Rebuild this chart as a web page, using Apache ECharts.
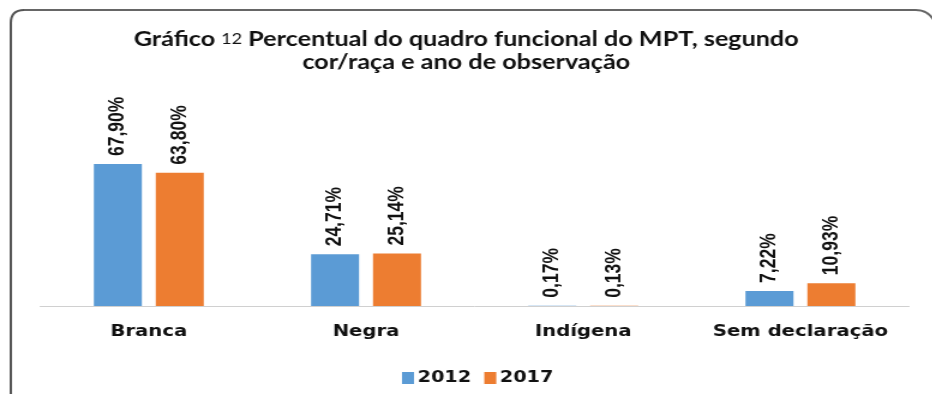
<!DOCTYPE html>
<html>
<head>
<meta charset="utf-8">
<script src="https://cdn.jsdelivr.net/npm/echarts@6/dist/echarts.min.js"></script>
<style>
  html, body { margin: 0; padding: 0; background: #fff; overflow: hidden; }
  #wrap { width: 932px; height: 394px; overflow: hidden; }
  /* the figure is laid out at 777px and widened to fill the 932px frame */
  #chart { width: 777px; height: 394px; transform: scaleX(1.2); transform-origin: 0 0; }
</style>
</head>
<body>
<div id="wrap"><div id="chart"></div></div>
<script>
// Categories (cor/raça) and yearly percentages
const categories = ['Branca', 'Negra', 'Indígena', 'Sem declaração'];
const years = ['2012', '2017'];
const values2012 = [67.90, 24.71, 0.17, 7.22];
const values2017 = [63.80, 25.14, 0.13, 10.93];

const colors = ['#5B9BD5', '#ED7D31'];
const titleFont = 'Lato, "Open Sans", "Noto Sans", sans-serif';
const boldFont = '"DejaVu Sans", Verdana, sans-serif';
const valueFont = '"Liberation Sans", Arial, sans-serif';

const fmt = v => v.toFixed(2).replace('.', ',') + '%';

function barSeries(name, data, color) {
  return {
    name: name,
    type: 'bar',
    data: data,
    barWidth: 40,
    barGap: '29%',
    itemStyle: { color: color },
    label: {
      show: true,
      position: 'top',
      rotate: 90,
      align: 'left',
      verticalAlign: 'middle',
      distance: 8,
      formatter: p => fmt(p.value),
      fontFamily: valueFont,
      fontWeight: 'bold',
      fontSize: 17.5,
      color: '#111'
    }
  };
}

const chart = echarts.init(document.getElementById('chart'));
chart.setOption({
  animation: false,
  backgroundColor: '#fff',
  title: {
    text: 'Gráfico {s|12} Percentual do quadro funcional do MPT, segundo\ncor/raça e ano de observação',
    left: 'center',
    top: 23,
    textStyle: {
      fontFamily: titleFont,
      fontWeight: 'bold',
      fontSize: 21,
      color: '#111',
      lineHeight: 23,
      rich: {
        s: { fontFamily: titleFont, fontWeight: 'normal', fontSize: 15, color: '#111', lineHeight: 23 }
      }
    }
  },
  graphic: [
    {
      type: 'polyline',
      shape: { points: [[9, 396], [9, 23]] },
      style: { stroke: '#555', lineWidth: 2, fill: null }
    },
    {
      type: 'bezierCurve',
      shape: { x1: 9, y1: 23, x2: 20, y2: 10, cpx1: 9, cpy1: 10 },
      style: { stroke: '#555', lineWidth: 2, fill: null }
    },
    {
      type: 'polyline',
      shape: { points: [[20, 10], [763, 10]] },
      style: { stroke: '#666', lineWidth: 2, fill: null }
    },
    {
      type: 'bezierCurve',
      shape: { x1: 763, y1: 10, x2: 779, y2: 22, cpx1: 774, cpy1: 10 },
      style: { stroke: '#666', lineWidth: 2, fill: null }
    }
  ],
  legend: {
    data: years,
    top: 365,
    left: 330,
    itemWidth: 10,
    itemHeight: 12,
    itemGap: 11,
    icon: 'rect',
    textStyle: { fontFamily: boldFont, fontWeight: 'bold', fontSize: 16, color: '#111', padding: [0, 0, 0, -2] }
  },
  grid: { left: 33.5, right: 19.5, top: 97, bottom: 88, containLabel: false },
  xAxis: {
    type: 'category',
    data: categories,
    axisLine: { lineStyle: { color: '#d0d0d0', width: 1 } },
    axisTick: { show: false },
    axisLabel: {
      interval: 0,
      fontFamily: boldFont,
      fontWeight: 'bold',
      fontSize: 16.4,
      color: '#111',
      margin: 18
    }
  },
  yAxis: {
    type: 'value',
    min: 0,
    max: 100,
    show: false,
    splitLine: { show: false }
  },
  series: [
    barSeries(years[0], values2012, colors[0]),
    barSeries(years[1], values2017, colors[1])
  ]
});
</script>
</body>
</html>
